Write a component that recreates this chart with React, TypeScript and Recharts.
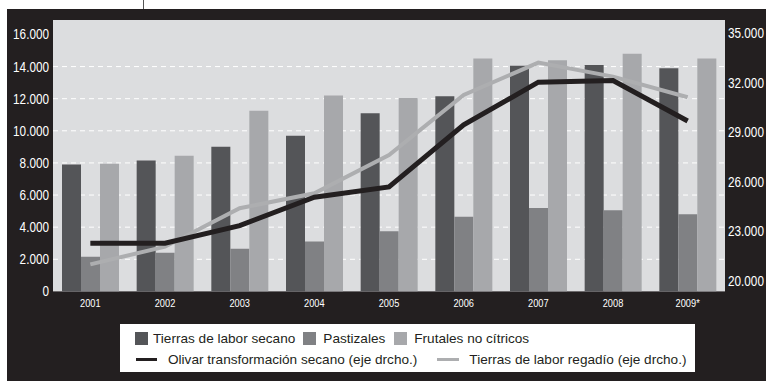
import React from 'react';
import { ComposedChart, Bar, Line, XAxis, YAxis, CartesianGrid } from 'recharts';

const years = ['2001', '2002', '2003', '2004', '2005', '2006', '2007', '2008', '2009*'];
const secano = [7900, 8150, 9000, 9700, 11100, 12150, 14050, 14100, 13900];
const pastizales = [2150, 2400, 2650, 3100, 3750, 4650, 5200, 5050, 4800];
const frutales = [7950, 8450, 11250, 12200, 12050, 14500, 14400, 14800, 14500];
const olivar = [22270, 22270, 23340, 25060, 25680, 29440, 32030, 32130, 29680];
const regadio = [20990, 22060, 24390, 25300, 27620, 31260, 33220, 32370, 31120];

const leftTicks = [0, 2000, 4000, 6000, 8000, 10000, 12000, 14000, 16000];
const rightTicks = [20000, 23000, 26000, 29000, 32000, 35000];
const gridValues = [2000, 4000, 6000, 8000, 10000, 12000, 14000];
const leftDomain = [0, 16900];
const rightDomain = [19350, 35800];

const barNames = ['Tierras de labor secano', 'Pastizales', 'Frutales no cítricos'];
const lineNames = ['Olivar transformación secano (eje drcho.)', 'Tierras de labor regadío (eje drcho.)'];

const C = {
  black: '#231f20',
  plot: '#dcdddf',
  dark: '#545558',
  mid: '#808184',
  light: '#a7a8ab',
  grayLine: '#adaeb0',
};

const data = years.map((y, i) => ({
  year: y,
  secano: secano[i],
  pastizales: pastizales[i],
  frutales: frutales[i],
  olivar: olivar[i],
  regadio: regadio[i],
}));

const fmt = (v: number) => {
  if (v === 0) return '0';
  const th = Math.floor(v / 1000);
  const rest = v % 1000;
  return `${th}.${String(rest).padStart(3, '0')}`;
};

const sans = "'Liberation Sans', Arial, Helvetica, sans-serif";

const makeTick = (anchor: 'start' | 'end' | 'middle', size: number, dy: string, format?: (v: any) => string) =>
  (props: any) => {
    const { x, y, payload } = props;
    const label = format ? format(payload.value) : String(payload.value);
    return (
      <g transform={`translate(${x},${y}) scale(0.84,1)`}>
        <text x={0} y={0} dy={dy} textAnchor={anchor} fill="#ffffff" fontSize={size} fontFamily={sans}>
          {label}
        </text>
      </g>
    );
  };

const LeftTick = makeTick('end', 14, '0.355em', fmt);
const RightTick = makeTick('start', 14, '0.355em', fmt);
const BottomTick = makeTick('middle', 11, '0.71em');

export default function App() {
  const gridGen = (args: any) => {
    const ya = args?.yAxis;
    if (ya && typeof ya.scale === 'function') {
      return gridValues.map((v) => ya.scale(v));
    }
    const off = args.offset;
    return gridValues.map(
      (v) => off.top + off.height * (1 - (v - leftDomain[0]) / (leftDomain[1] - leftDomain[0]))
    );
  };

  return (
    <div style={{ position: 'absolute', left: 0, top: 0, width: 766, height: 381, background: '#ffffff', overflow: 'hidden' }}>
      <div style={{ position: 'absolute', left: 7, top: 9, width: 759, height: 372, background: C.black }} />
      <div style={{ position: 'absolute', left: 143, top: 0, width: 1, height: 9, background: '#555' }} />
      <div style={{ position: 'absolute', left: 0, top: 0 }}>
        <ComposedChart
          width={766}
          height={381}
          data={data}
          margin={{ top: 20, right: 0, left: 8, bottom: 59.6 }}
          barGap={0}
          barCategoryGap="12%"
        >
          <CartesianGrid
            yAxisId="left"
            vertical={false}
            horizontal={true}
            fill={C.plot}
            fillOpacity={1}
            stroke="#ffffff"
            strokeWidth={1}
            strokeDasharray="5 4"
            horizontalCoordinatesGenerator={gridGen}
          />
          <XAxis
            dataKey="year"
            axisLine={false}
            tickLine={false}
            height={30}
            interval={0}
            tick={BottomTick}
          />
          <YAxis
            yAxisId="left"
            orientation="left"
            width={45}
            domain={leftDomain}
            ticks={leftTicks}
            allowDataOverflow
            axisLine={false}
            tickLine={false}
            tickSize={2}
            tickMargin={2}
            tick={LeftTick}
          />
          <YAxis
            yAxisId="right"
            orientation="right"
            width={41}
            domain={rightDomain}
            ticks={rightTicks}
            allowDataOverflow
            axisLine={false}
            tickLine={false}
            tickSize={1}
            tickMargin={2}
            tick={RightTick}
          />
          <Bar yAxisId="left" dataKey="secano" name={barNames[0]} fill={C.dark} barSize={19} isAnimationActive={false} />
          <Bar yAxisId="left" dataKey="pastizales" name={barNames[1]} fill={C.mid} barSize={19} isAnimationActive={false} />
          <Bar yAxisId="left" dataKey="frutales" name={barNames[2]} fill={C.light} barSize={19} isAnimationActive={false} />
          <Line
            yAxisId="right"
            type="linear"
            dataKey="regadio"
            name={lineNames[1]}
            stroke={C.grayLine}
            strokeWidth={4}
            dot={false}
            activeDot={false}
            isAnimationActive={false}
          />
          <Line
            yAxisId="right"
            type="linear"
            dataKey="olivar"
            name={lineNames[0]}
            stroke={C.black}
            strokeWidth={5}
            dot={false}
            activeDot={false}
            isAnimationActive={false}
          />
        </ComposedChart>
      </div>
      <div
        style={{
          position: 'absolute',
          left: 120,
          top: 324,
          width: 575,
          height: 48,
          background: '#ffffff',
          fontFamily: sans,
          fontSize: 13.6,
          color: C.black,
        }}
      >
        <div style={{ position: 'absolute', left: 15, top: 7, display: 'flex', alignItems: 'center', whiteSpace: 'nowrap' }}>
          <span style={{ width: 13, height: 13, background: C.dark, display: 'inline-block', marginRight: 5 }} />
          <span>{barNames[0]}</span>
          <span style={{ width: 13, height: 13, background: C.mid, display: 'inline-block', marginLeft: 8, marginRight: 7 }} />
          <span>{barNames[1]}</span>
          <span style={{ width: 13, height: 13, background: C.light, display: 'inline-block', marginLeft: 9, marginRight: 7 }} />
          <span>{barNames[2]}</span>
        </div>
        <div style={{ position: 'absolute', left: 16, top: 28, display: 'flex', alignItems: 'center', whiteSpace: 'nowrap' }}>
          <span style={{ width: 21, height: 3.5, background: C.black, display: 'inline-block', marginRight: 11 }} />
          <span>{lineNames[0]}</span>
          <span style={{ width: 22, height: 3.5, background: C.grayLine, display: 'inline-block', marginLeft: 20, marginRight: 10 }} />
          <span>{lineNames[1]}</span>
        </div>
      </div>
    </div>
  );
}
